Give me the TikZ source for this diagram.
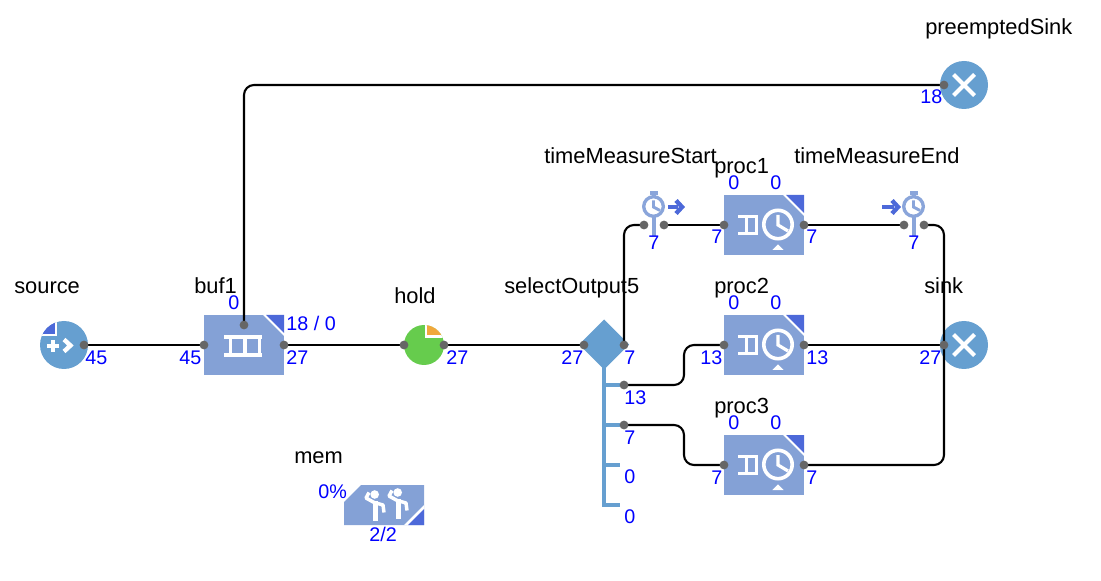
\documentclass[tikz,border=0pt]{standalone}
\usepackage{fontspec}
\setmainfont{Liberation Sans}
\usetikzlibrary{calc}
\usetikzlibrary{positioning}

\pgfdeclarelayer{ports}
\pgfsetlayers{main,ports}

\definecolor{blockblue}{HTML}{84A1D6}
\definecolor{roundblue}{HTML}{669FD0}
\definecolor{markblue}{HTML}{4D69D9}
\definecolor{clockblue}{HTML}{8AA5DA}
\definecolor{holdgreen}{HTML}{66CC4D}
\definecolor{holdorange}{HTML}{F0A83C}
\definecolor{portgrey}{HTML}{666666}

\tikzset{
  port/.style={circle,fill=portgrey,inner sep=0pt,minimum size=6.6pt},
  conn/.style={line width=1.6pt,black,rounded corners=7.5pt},
  blockname/.style={anchor=base west,inner sep=0pt,yshift=-0.8pt,font=\fontsize{16.4}{18}\selectfont},
  countlabel/.style={anchor=base west,inner sep=0pt,xshift=-0.6pt,text=blue,font=\fontsize{14.8}{17}\selectfont},
  icon/.style={white,line width=2.4pt},
  iconbold/.style={white,line width=2.7pt},
  chevron/.style={line width=3.3pt},
  stemline/.style={roundblue,line width=3pt},
  clockring/.style={clockblue,line width=2.5pt},
}

% corner mark of a block: top right corner at (#1,#2)
\newcommand{\blockmark}[2]{
  \fill [white] (#1-21,#2) -- (#1,#2) -- (#1,#2+21) -- cycle;
  \fill [markblue] (#1-18,#2) -- (#1,#2) -- (#1,#2+18) -- cycle;
}

\begin{document}
\begin{tikzpicture}[x=0.75pt,y=0.75pt,yscale=-1,xscale=1]
  \useasboundingbox (0,0) rectangle (1101,581);

  %Shape: source
  \fill [roundblue] (64,345) circle (24);
  \begin{scope}
    \clip (64,345) circle (24);
    \fill [markblue] (38,319) rectangle (55,334);
    \draw [icon,line width=1.2pt] (56,319) -- (56,335) -- (38,335);
  \end{scope}
  \draw [iconbold] (47,346) -- (59,346) (53,340) -- (53,352);
  \draw [white,chevron] (64,339.5) -- (70.5,345.5) -- (64,351.5);

  %Shape: buf1
  \fill [blockblue] (204,315) rectangle (284,375);
  \blockmark{284}{315}
  \draw [icon] (224,337) -- (262,337) (224,355) -- (262,355);
  \draw [icon] (230.7,337) -- (230.7,355) (245,337) -- (245,355) (259.7,337) -- (259.7,355);

  %Shape: hold
  \fill [holdgreen] (424,345) circle (20);
  \begin{scope}
    \clip (424,345) circle (20);
    \fill [white] (425,323) rectangle (446,338);
    \fill [holdorange] (427,323) rectangle (446,335.5);
  \end{scope}

  %Shape: selectOutput5
  \draw [stemline] (604,360) -- (604,506.5) (604,385) -- (620,385) (604,425) -- (620,425) (604,465) -- (620,465) (604,505) -- (620,505);
  \fill [roundblue] (604,319.5) -- (629,344.5) -- (604,369.5) -- (579,344.5) -- cycle;

  %Shape: timeMeasureStart
  \draw [clockring] (653.5,206.5) circle (9.8);
  \fill [clockblue] (650,191) rectangle (657.5,195);
  \draw [clockring,line width=3pt] (653.5,193) -- (653.5,197) (653.5,216) -- (653.5,236);
  \draw [clockring,line width=2.2pt] (653.5,200.5) -- (653.5,207) -- (660,210.5);
  \draw [markblue,line width=2.6pt] (668,207) -- (678,207);
  \draw [markblue,chevron] (676,200.5) -- (682,207) -- (676,213.5);

  %Shape: timeMeasureEnd
  \draw [clockring] (913.5,206.5) circle (9.8);
  \fill [clockblue] (910,191) rectangle (917.5,195);
  \draw [clockring,line width=3pt] (913.5,193) -- (913.5,197) (913.5,216) -- (913.5,236);
  \draw [clockring,line width=2.2pt] (913.5,200.5) -- (913.5,207) -- (920,210.5);
  \draw [markblue,line width=2.6pt] (882,207) -- (894,207);
  \draw [markblue,chevron] (892,200.5) -- (898,207) -- (892,213.5);

  %Shape: proc1, proc2, proc3
  \foreach \ytop in {195,315,435}{
    \fill [blockblue] (724,\ytop) rectangle (804,\ytop+60);
    \blockmark{804}{\ytop}
    \draw [icon] (738,\ytop+21.7) -- (758,\ytop+21.7) (738,\ytop+38.3) -- (758,\ytop+38.3);
    \draw [icon] (746.3,\ytop+21.7) -- (746.3,\ytop+38.3) (756.3,\ytop+21.7) -- (756.3,\ytop+38.3);
    \draw [iconbold] (778,\ytop+29.5) circle (14.2);
    \draw [icon] (778,\ytop+20) -- (778,\ytop+30) -- (788,\ytop+36);
    \fill [white] (772.3,\ytop+55) -- (783.7,\ytop+55) -- (778,\ytop+49.3) -- cycle;
  }

  %Shape: sink, preemptedSink
  \foreach \ymid in {85,345}{
    \fill [roundblue] (964,\ymid) circle (24);
    \draw [white,line width=3pt] (953.5,\ymid-10.5) -- (974.5,\ymid+10.5) (953.5,\ymid+10.5) -- (974.5,\ymid-10.5);
  }

  %Shape: mem
  \fill [blockblue] (361,485) -- (424,485) -- (424,525) -- (344,525) -- (344,502) -- cycle;
  \fill [white] (404,525) -- (424,505) -- (424,525) -- cycle;
  \fill [markblue] (408,525) -- (424,509) -- (424,525) -- cycle;
  \foreach \xoff/\yoff in {0/0,23/-2}{
    \fill [white] (374.7+\xoff,494.5+\yoff) circle (4.3);
    \draw [white,line width=4.4pt] (375.5+\xoff,501+\yoff) -- (375.5+\xoff,520.5+\yoff);
    \draw [white,line width=2.6pt,line join=round] (375+\xoff,503+\yoff) -- (366+\xoff,498+\yoff) -- (369+\xoff,492.5+\yoff);
    \draw [white,line width=2.6pt,line join=round] (376+\xoff,503+\yoff) -- (383+\xoff,505+\yoff) -- (384+\xoff,512.5+\yoff);
  }

  % Ports
  \begin{pgfonlayer}{ports}
    \node [port] (sourceOut) at (84,345) {};
    \node [port] (buf1In) at (204,345) {};
    \node [port] (buf1Out) at (284,345) {};
    \node [port] (buf1Top) at (244,325) {};
    \node [port] (holdIn) at (404,345) {};
    \node [port] (holdOut) at (444,345) {};
    \node [port] (selectIn) at (584,345) {};
    \node [port] (selectOut1) at (624,345) {};
    \node [port] (selectOut2) at (624,385) {};
    \node [port] (selectOut3) at (624,425) {};
    \node [port] (startIn) at (644,225) {};
    \node [port] (startOut) at (664,225) {};
    \node [port] (endIn) at (904,225) {};
    \node [port] (endOut) at (924,225) {};
    \node [port] (proc1In) at (724,225) {};
    \node [port] (proc1Out) at (804,225) {};
    \node [port] (proc2In) at (724,345) {};
    \node [port] (proc2Out) at (804,345) {};
    \node [port] (proc3In) at (724,465) {};
    \node [port] (proc3Out) at (804,465) {};
    \node [port] (sinkIn) at (944,345) {};
    \node [port] (preemptedIn) at (944,85) {};
  \end{pgfonlayer}

  % Connectors
  \draw [conn] (sourceOut.center) -- (buf1In.center);
  \draw [conn] (buf1Top.center) |- (preemptedIn.center);
  \draw [conn] (buf1Out.center) -- (holdIn.center);
  \draw [conn] (holdOut.center) -- (selectIn.center);
  \draw [conn] (selectOut1.center) |- (startIn.center);
  \draw [conn] (startOut.center) -- (proc1In.center);
  \draw [conn] (proc1Out.center) -- (endIn.center);
  \draw [conn] (endOut.center) -| (sinkIn.center);
  \draw [conn] (selectOut2.center) -- ++(60,0) |- (proc2In.center);
  \draw [conn] (selectOut3.center) -- ++(60,0) |- (proc3In.center);
  \draw [conn] (proc2Out.center) -- (sinkIn.center);
  \draw [conn] (proc3Out.center) -| (sinkIn.center);

  % Text Node
  \node [blockname] (sourceName) at (14,292) {source};
  \node [blockname] (buf1Name) at (194,292) {buf1};
  \node [blockname] (holdName) at (394,302) {hold};
  \node [blockname] (selectName) at (504,292) {selectOutput5};
  \node [blockname] (startName) at (544,162) {timeMeasureStart};
  \node [blockname] (proc1Name) at (714,172) {proc1};
  \node [blockname] (endName) at (794,162) {timeMeasureEnd};
  \node [blockname] (proc2Name) at (714,292) {proc2};
  \node [blockname] (proc3Name) at (714,412) {proc3};
  \node [blockname] (sinkName) at (924,292) {sink};
  \node [blockname] (preemptedName) at (925,33) {preemptedSink};
  \node [blockname] (memName) at (294,462) {mem};

  % Counts
  \node [countlabel] (sourceCount) at (86,364) {45};
  \node [countlabel] (buf1InCount) at (180,364) {45};
  \node [countlabel] (buf1TopCount) at (229,310) {0};
  \node [countlabel] (buf1SizeCount) at (287,330) {18 / 0};
  \node [countlabel] (buf1OutCount) at (287,364) {27};
  \node [countlabel] (holdCount) at (447,364) {27};
  \node [countlabel] (selectInCount) at (562,364) {27};
  \node [countlabel] (selectCount1) at (625,364) {7};
  \node [countlabel] (selectCount2) at (625,404) {13};
  \node [countlabel] (selectCount3) at (625,444) {7};
  \node [countlabel] (selectCount4) at (625,483) {0};
  \node [countlabel] (selectCount5) at (625,523) {0};
  \node [countlabel] (startCount) at (649,250) {7};
  \node [countlabel] (endCount) at (909,250) {7};
  \node [countlabel] (proc1QueueCount) at (729,190) {0};
  \node [countlabel] (proc1DelayCount) at (771,190) {0};
  \node [countlabel] (proc1InCount) at (712,244) {7};
  \node [countlabel] (proc1OutCount) at (807,244) {7};
  \node [countlabel] (proc2QueueCount) at (729,310) {0};
  \node [countlabel] (proc2DelayCount) at (771,310) {0};
  \node [countlabel] (proc2InCount) at (701,364) {13};
  \node [countlabel] (proc2OutCount) at (807,364) {13};
  \node [countlabel] (proc3QueueCount) at (729,430) {0};
  \node [countlabel] (proc3DelayCount) at (771,430) {0};
  \node [countlabel] (proc3InCount) at (712,484) {7};
  \node [countlabel] (proc3OutCount) at (807,484) {7};
  \node [countlabel] (sinkCount) at (920,364) {27};
  \node [countlabel] (preemptedCount) at (921,104) {18};
  \node [countlabel] (memUseCount) at (319,498) {0\%};
  \node [countlabel] (memFreeCount) at (370,541) {2/2};
\end{tikzpicture}
\end{document}
